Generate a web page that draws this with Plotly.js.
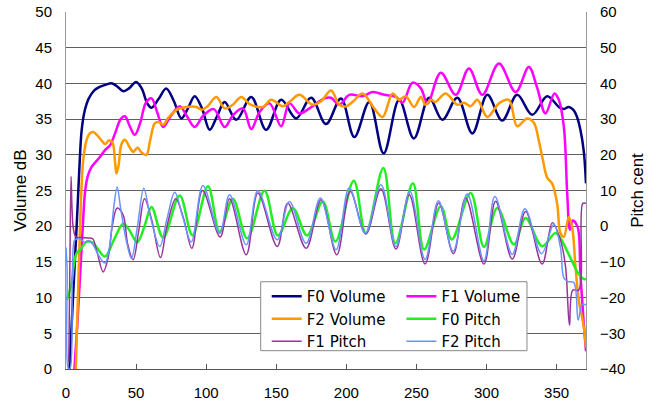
<!DOCTYPE html>
<html><head><meta charset="utf-8">
<script src="https://cdn.plot.ly/plotly-3.0.1.min.js"></script>
<style>html,body{margin:0;padding:0;background:#fff;}#chart{width:654px;height:402px;}</style>
</head><body><div id="chart"></div>
<script>
const seriesNames = ["F0 Volume", "F1 Volume", "F2 Volume", "F0 Pitch", "F1 Pitch", "F2 Pitch"];
const xTicks = [0, 50, 100, 150, 200, 250, 300, 350];
const volumeTicks = [0, 5, 10, 15, 20, 25, 30, 35, 40, 45, 50];
const pitchTicks = [-40, -30, -20, -10, 0, 10, 20, 30, 40, 50, 60];

// F0 Volume (dB)
const f0VolX = [2.5, 5, 7.6, 9.5, 11.2, 13.5, 16, 20, 24, 28, 33, 37, 41, 45, 50, 54, 58, 61, 66, 71.5, 77, 82.3, 87, 91.8, 97, 102.5, 108, 113.2, 121.5, 132.2, 142.8, 153.5, 164.2, 174.9, 185.5, 196.2, 205.7, 216.4, 226.6, 237.7, 248.2, 259.1, 268.5, 279.2, 289.9, 300.6, 311.2, 321.9, 332.6, 343.3, 351.6, 355, 358.7, 362, 364.6, 367, 369.4, 371];
const f0VolY = [0, 10, 20, 28, 33.5, 36.3, 37.8, 39, 39.5, 39.8, 40, 39.5, 38.9, 39.3, 40.2, 39.3, 37.2, 36.6, 37.8, 39.3, 37.5, 35.1, 36.5, 38.2, 36.5, 33.5, 35.5, 37.4, 34.9, 38.1, 33.5, 37.7, 35.1, 38.0, 34.3, 37.9, 32.5, 37.4, 30.2, 37.7, 32.3, 38.0, 34.9, 38.0, 33.0, 38.4, 34.8, 38.4, 35.6, 38.2, 36.7, 36.4, 36.7, 36.3, 35.3, 33.5, 30.5, 26];

// F1 Volume (dB)
const f1VolX = [6, 8, 10, 12, 13.5, 15.5, 18.3, 24.2, 28, 31.3, 35, 39, 42, 45.5, 49.1, 53, 57, 61, 65, 69.3, 75, 81.1, 86, 91.8, 98, 105.5, 113.2, 119, 126.2, 132.2, 138.1, 145.2, 153.5, 159.4, 166.5, 173.7, 184.3, 189, 195, 202.1, 211.6, 218.7, 227, 235.4, 240.1, 247.2, 253.2, 257.9, 267.4, 278.1, 287.5, 297, 308.9, 320.8, 330.2, 336, 342.1, 348.5, 351.6, 355.2, 357.6, 359.5, 361.5, 365, 367, 369.4, 371];
const f1VolY = [0, 6, 12.9, 20, 24.6, 27, 28.3, 29.7, 30.7, 31.3, 33, 35, 35.4, 34, 32.8, 34.5, 37.3, 37.9, 36, 33.9, 35.5, 36.8, 35.5, 33.9, 35.5, 36.4, 33.9, 35.5, 36.5, 33.6, 36.0, 37.2, 34.0, 37.2, 35.8, 36.5, 37.9, 38.0, 37.0, 38.4, 38.2, 38.8, 38.4, 38.1, 37.3, 40.1, 39.3, 37.2, 41.5, 38.4, 42.1, 38.4, 42.8, 38.8, 42.3, 39.5, 35.8, 38.6, 37.7, 33.9, 24.6, 19.5, 20.8, 19.9, 13.4, 6.4, 2.5];

// F2 Volume (dB)
const f2VolX = [7, 8.5, 10, 11.2, 12.3, 14.7, 17, 19.4, 22, 25.4, 28, 30.5, 33, 35, 36, 37.5, 39.6, 42, 45, 47.9, 51, 54, 57.4, 60, 63.3, 66, 69.3, 73, 78.8, 85.9, 93, 97, 101, 107.3, 113.2, 119, 125.1, 131, 140.4, 146.4, 154.7, 160, 166.5, 176, 182, 189.1, 195, 200, 205, 211.6, 219.9, 225.9, 233, 237.7, 242.4, 248.4, 253.2, 256.5, 260.3, 263.5, 270.9, 279.2, 284, 288.7, 293.5, 300.6, 308.9, 316, 321.9, 329, 333.8, 337.3, 340, 343.3, 346.8, 350.4, 352.8, 355.2, 358.7, 361.1, 363.5, 365.8, 369.4, 371];
const f2VolY = [0, 10, 19.9, 26, 29.3, 32.1, 33, 33.2, 32.8, 32.0, 31.5, 32, 31.8, 29, 27.4, 28.5, 31.5, 32.1, 31.2, 30.4, 31, 30.3, 30.0, 32, 34.4, 34.6, 34.2, 35.2, 36.3, 36.7, 36.7, 36.3, 36.8, 38.1, 36.5, 37, 38.1, 37.1, 36.7, 37.7, 36.8, 37.5, 38.4, 37.0, 37.5, 39.0, 37.0, 36.8, 37.5, 38.6, 36.5, 35.3, 38.6, 37.7, 38.2, 36.7, 38.1, 37, 37.7, 37.4, 38.6, 37.0, 37.3, 36.8, 37.7, 35.3, 37.2, 37.7, 34.0, 35.1, 34.5, 32, 29.5, 26.8, 26, 23.2, 19.0, 18.5, 21.3, 19.9, 14.3, 9.7, 5.9, 3];

// F0 Pitch (cent)
const f0PitchX = [0.5, 2, 4, 5.5, 7.6, 10, 14.7, 19, 22, 27.8, 34, 40.8, 45, 50.8, 56, 61, 69.3, 81.1, 90.2, 101.3, 109.6, 119, 129.3, 141.6, 151.2, 161.8, 172, 183.2, 192.2, 205.3, 213.9, 226.4, 235, 247.5, 255.5, 267.4, 275.2, 288.7, 298.2, 307.7, 319.6, 327.9, 339.7, 349.2, 353, 358.7, 365.8, 369.4, 371];
const f0PitchY = [-20.7, -19, -16, -11, -7.5, -6.7, -4.4, -4.6, -6, -8.5, -4, 0.7, -1, -4.5, 0, 5.4, -3.2, 8.6, -2.5, 11.2, -1.6, 7.7, -3.4, 9.9, -2.6, 5.0, -2.6, 6.9, -4.3, 12.7, -2.0, 16.3, -4.8, 12, -6.5, 5.6, -3.7, 9.3, -5.8, 5.1, -5.1, 2.3, -5.6, -1.9, -3.5, -7.9, -13.4, -14.8, -14.8];

// F1 Pitch (cent)
const f1PitchX = [2, 2.8, 3.6, 4.3, 5.2, 7, 10, 15.9, 19, 22, 26.5, 30, 33, 36.5, 40.8, 44, 47.9, 52, 56, 61, 67.4, 72, 78.3, 84, 89.8, 97.4, 110, 116.7, 128.6, 136.9, 150.7, 158.2, 171.3, 182, 193.2, 202.8, 213.9, 224.7, 235.4, 244.9, 256.2, 265.9, 276.4, 285.1, 298.2, 306.5, 318.4, 327.9, 339.7, 347, 352.8, 356.4, 359.2, 361.6, 365.8, 368.7, 371];
const f1PitchY = [-38, -10, 14, 5, -0.5, -3, -3.2, -3.3, -3.5, -7, -12.8, -9, 0, 5.1, 3.1, -5, -9.4, -1, 7.7, 2, -8.8, 0, 7.7, 2, -6.2, 10, -3, 7.7, -8.0, 9.3, -5.7, 6.4, -6.2, 7.4, -8.0, 9.7, -2.2, 10.5, -6.4, 8.8, -10.6, 6.5, -7.7, 7.9, -10.6, 7.0, -9.2, 4.1, -10.6, 1.0, -3.9, -11.3, -27.7, -17.9, -17.9, 6.4, 6.4];

// F2 Pitch (cent)
const f2PitchX = [0, 0.8, 1.7, 2.8, 4.5, 6, 7.5, 10, 13, 16, 19, 23, 27.8, 31, 34, 36.5, 39, 43, 46.7, 51, 55.5, 60, 66.9, 72, 77.6, 83, 89.4, 97.7, 109.6, 116.7, 128.6, 136.9, 150.7, 159.4, 171.3, 181.5, 192.7, 202.1, 213.5, 224.7, 235.4, 245.3, 256.2, 265.7, 276.2, 286.3, 298.2, 306, 318.4, 327.4, 339.3, 348, 352.8, 355.2, 358, 362.3, 365.4, 368.2, 371];
const f2PitchY = [-6, -12, -40, -40, -15, -4, -3.6, -3.5, -4.5, -4, -5, -8, -10.3, -6, 5, 11, 5, -4, -9.0, 0, 10.6, 3, -5.7, 2, 9.5, 3, -4.4, 11.4, -2.0, 8.8, -5.2, 9.9, -3.8, 6.9, -4.8, 7.9, -6.6, 10.8, -2.0, 11.6, -5.7, 9.8, -9.3, 7.1, -7.0, 9.0, -9.7, 8.3, -7.9, 4.9, -7.7, 0.5, -6.0, -14.5, -15.5, -15.8, -26.3, -22, -22];

const FONT = "Liberation Sans, Arial, sans-serif";
const LEGEND_FONT = "DejaVu Sans, Liberation Sans, sans-serif";

function trace(name, x, y, color, width, yaxis, legend) {
  return {
    type: "scatter", mode: "lines", name: name, x: x, y: y,
    line: {color: color, width: width, shape: "spline", smoothing: 1},
    yaxis: yaxis, legend: legend, hoverinfo: "skip"
  };
}

const data = [
  trace(seriesNames[0], f0VolX, f0VolY, "#000080", 2.5, "y", "legend"),
  trace(seriesNames[1], f1VolX, f1VolY, "#ff00ff", 2.5, "y", "legend2"),
  trace(seriesNames[2], f2VolX, f2VolY, "#ff9900", 2.5, "y", "legend"),
  trace(seriesNames[3], f0PitchX, f0PitchY, "#22ee22", 2.5, "y2", "legend2"),
  trace(seriesNames[4], f1PitchX, f1PitchY, "#993399", 1.5, "y2", "legend"),
  trace(seriesNames[5], f2PitchX, f2PitchY, "#6a93ff", 1.5, "y2", "legend2")
];

const legendBase = {
  yanchor: "top", xanchor: "left", bgcolor: "rgba(0,0,0,0)", borderwidth: 0,
  font: {family: LEGEND_FONT, size: 15, color: "#000"}, itemwidth: 30, tracegroupgap: 0
};

const layout = {
  width: 654, height: 402,
  margin: {l: 66, r: 68, t: 12, b: 33, pad: 0},
  paper_bgcolor: "#fff", plot_bgcolor: "#fff",
  font: {family: FONT, size: 15, color: "#000"},
  showlegend: true,
  legend: Object.assign({x: 0.386, y: 0.249}, legendBase),
  legend2: Object.assign({x: 0.645, y: 0.249}, legendBase),
  xaxis: {
    range: [0, 371], tickvals: xTicks, ticktext: xTicks.map(String),
    ticks: "inside", ticklen: 5, tickcolor: "#555", tickwidth: 1,
    showline: true, linecolor: "#555", linewidth: 1,
    showgrid: false, zeroline: false,
    tickfont: {family: FONT, size: 15, color: "#000"}, ticklabelstandoff: 10
  },
  yaxis: {
    range: [0, 50], tickvals: volumeTicks, ticktext: volumeTicks.map(String),
    ticks: "", showgrid: true, gridcolor: "#606060", gridwidth: 1,
    showline: true, linecolor: "#999", linewidth: 1, zeroline: false,
    tickfont: {family: FONT, size: 15, color: "#000"}, ticklabelstandoff: 10,
    title: {text: "Volume dB", font: {family: FONT, size: 17, color: "#000"}, standoff: 4}
  },
  yaxis2: {
    overlaying: "y", side: "right", range: [-40, 60],
    tickvals: pitchTicks, ticktext: pitchTicks.map(v => v < 0 ? "\u2212" + Math.abs(v) : String(v)),
    ticks: "", showgrid: false, showline: true, linecolor: "#999", linewidth: 1, zeroline: false,
    tickfont: {family: FONT, size: 15, color: "#000"}, ticklabelstandoff: 10,
    title: {text: "Pitch cent", font: {family: FONT, size: 17, color: "#000"}, standoff: 6}
  },
  shapes: [{
    type: "rect", xref: "paper", yref: "paper",
    x0: 0.3744, x1: 0.8865, y0: 0.0513, y1: 0.2445,
    fillcolor: "#fff", line: {color: "#888", width: 1}, layer: "above"
  }]
};

Plotly.newPlot("chart", data, layout, {staticPlot: true, displayModeBar: false});
</script>
</body></html>
